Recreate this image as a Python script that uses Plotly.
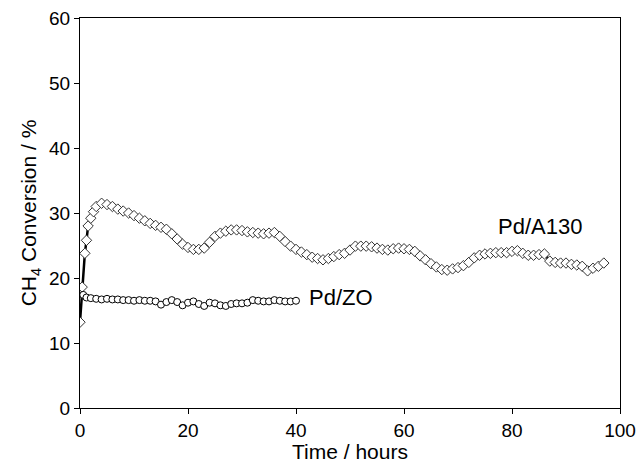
import plotly.graph_objects as go

a130_t = [0, 0.4, 0.9, 1.2, 1.5, 2, 2.5, 3, 4, 5, 6, 7, 8, 9, 10, 11, 12, 13, 14, 15, 16, 17, 18, 19,
          20, 21, 22, 23, 24, 25, 26, 27, 28, 29, 30, 31, 32, 33, 34, 35, 36, 37, 38, 39,
          40, 41, 42, 43, 44, 45, 46, 47, 48, 49, 50, 51, 52, 53, 54, 55, 56, 57, 58, 59,
          60, 61, 62, 63, 64, 65, 66, 67, 68, 69, 70, 71, 72, 73, 74, 75, 76, 77, 78, 79,
          80, 81, 82, 83, 84, 85, 86, 87, 88, 89, 90, 91, 92, 93, 94, 95, 96, 97]
a130_y = [13.2, 18.6, 23.8, 25.8, 28.0, 29.2, 30.2, 31.0, 31.5, 31.3, 31.0, 30.6, 30.3, 30.0, 29.6, 29.2,
          28.8, 28.4, 28.1, 27.8, 27.5, 26.8, 26.0, 25.2,
          24.7, 24.4, 24.4, 24.6, 25.5, 26.4, 26.9, 27.2, 27.4, 27.4, 27.3, 27.1, 27.0, 26.9, 26.8, 26.9,
          27.0, 26.4, 25.6, 24.9,
          24.4, 24.0, 23.6, 23.2, 23.0, 22.8, 23.0, 23.3, 23.6, 23.8, 24.3, 24.9, 24.9, 24.9, 24.8, 24.6,
          24.4, 24.3, 24.5, 24.6,
          24.5, 24.4, 24.1, 23.4, 22.8, 22.2, 21.7, 21.3, 21.2, 21.4, 21.6, 21.9, 22.4, 23.1, 23.5, 23.7,
          23.8, 23.9, 23.9, 23.9,
          24.1, 24.2, 23.8, 23.5, 23.5, 23.6, 23.7, 22.6, 22.4, 22.3, 22.3, 22.1, 22.0, 21.8, 21.1, 21.5,
          21.8, 22.3]

zo_t = [0.6, 1.2, 2, 3, 4, 5, 6, 7, 8, 9, 10, 11, 12, 13, 14, 15, 16, 17, 18, 19, 20,
        21, 22, 23, 24, 25, 26, 27, 28, 29, 30, 31, 32, 33, 34, 35, 36, 37, 38, 39, 40]
zo_y = [17.4, 17.0, 16.9, 16.8, 16.7, 16.8, 16.7, 16.7, 16.6, 16.6, 16.5, 16.6, 16.5, 16.5, 16.4,
        15.9, 16.3, 16.6, 16.3, 15.8, 16.2, 16.4, 16.0, 15.7, 16.2, 16.1, 15.8, 15.7, 16.0, 16.1,
        16.1, 16.2, 16.6, 16.5, 16.4, 16.4, 16.6, 16.5, 16.4, 16.4, 16.5]

x_ticks = [0, 20, 40, 60, 80, 100]
y_ticks = [0, 10, 20, 30, 40, 50, 60]

FONT = "Liberation Sans, Arial, sans-serif"

fig = go.Figure()
fig.add_trace(go.Scatter(
    x=a130_t, y=a130_y, mode="lines+markers", name="Pd/A130",
    line=dict(color="black", width=2.5),
    marker=dict(symbol="diamond", size=8, color="white", line=dict(color="#333", width=1)),
))
fig.add_trace(go.Scatter(
    x=zo_t, y=zo_y, mode="lines+markers", name="Pd/ZO",
    line=dict(color="black", width=2.5),
    marker=dict(symbol="circle", size=7, color="white", line=dict(color="black", width=1)),
))

fig.add_annotation(x=85.2, y=27.9, text="Pd/A130", showarrow=False,
                   font=dict(family=FONT, size=22, color="black"))
fig.add_annotation(x=48.4, y=17.0, text="Pd/ZO", showarrow=False,
                   font=dict(family=FONT, size=22, color="black"))

fig.update_layout(
    width=639, height=463,
    margin=dict(l=80, r=19, t=18, b=55),
    paper_bgcolor="white", plot_bgcolor="white",
    showlegend=False,
    font=dict(family=FONT, size=19, color="black"),
)
fig.update_xaxes(
    range=[0, 100], tickvals=x_ticks, ticks="outside", ticklen=5, tickcolor="black",
    showline=True, linecolor="black", linewidth=1, mirror=True, showgrid=False, zeroline=False,
    title=dict(text="Time / hours", font=dict(size=21), standoff=4),
    tickfont=dict(size=19), automargin=False,
)
fig.update_yaxes(
    range=[0, 60], tickvals=y_ticks, ticks="outside", ticklen=5, tickcolor="black",
    showline=True, linecolor="black", linewidth=1, mirror=True, showgrid=False, zeroline=False,
    title=dict(text="CH<sub>4</sub> Conversion / %", font=dict(size=21), standoff=6),
    tickfont=dict(size=19), automargin=False,
)

fig.write_html("out.html")
